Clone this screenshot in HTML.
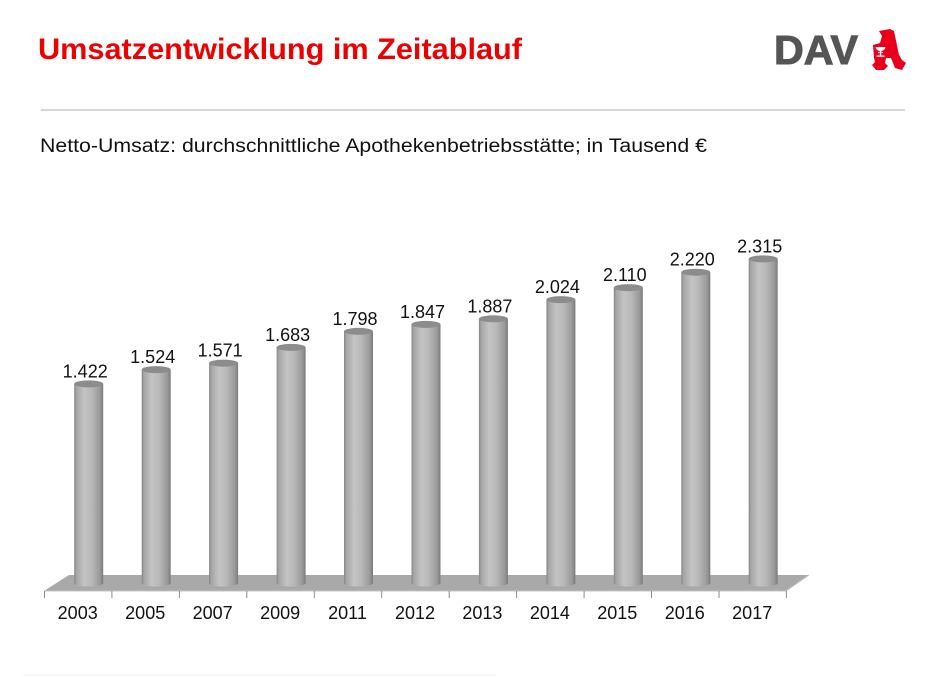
<!DOCTYPE html>
<html>
<head>
<meta charset="utf-8">
<style>
  html,body{margin:0;padding:0;background:#fff;}
  svg{display:block;}
  text{font-family:"Liberation Sans",Arial,sans-serif;}
</style>
</head>
<body>
<svg width="951" height="677" viewBox="0 0 951 677" xmlns="http://www.w3.org/2000/svg">
  <defs>
    <linearGradient id="cyl" x1="0" y1="0" x2="1" y2="0">
      <stop offset="0" stop-color="#858585"/>
      <stop offset="0.08" stop-color="#a6a6a6"/>
      <stop offset="0.35" stop-color="#c4c4c4"/>
      <stop offset="0.6" stop-color="#b8b8b8"/>
      <stop offset="0.88" stop-color="#9a9a9a"/>
      <stop offset="1" stop-color="#7a7a7a"/>
    </linearGradient>
  </defs>
  <rect width="951" height="677" fill="#fff"/>

  <!-- Title -->
  <text x="38" y="59" font-size="30" font-weight="bold" fill="#ee0000" textLength="484" lengthAdjust="spacingAndGlyphs">Umsatzentwicklung im Zeitablauf</text>

  <!-- DAV logo -->
  <text x="774" y="64" font-size="41" font-weight="bold" fill="#555555" stroke="#555555" stroke-width="1" textLength="84" lengthAdjust="spacingAndGlyphs">DAV</text>
  <polygon points="879,31 890,29 894,31 899,55 902,60 906,63 902,70 895,68 893,63 891,58 886,58 885,63 888,66 884,70 876,70 872,65 875,62 874,58 873,45 880,43 882,36" fill="#e8001c"/>
  <path d="M875.5,47 h10 a5,4 0 0 1 -10,0 z" fill="#fff"/>
  <rect x="879.8" y="50" width="1.5" height="6" fill="#fff"/>
  <rect x="876.5" y="55.5" width="8" height="1.3" fill="#fff"/>
  <path d="M878,53 q3,-2 5,0" stroke="#fff" stroke-width="0.8" fill="none"/>

  <!-- Separator line -->
  <line x1="41" y1="110" x2="905" y2="110" stroke="#c8c8c8" stroke-width="1.5"/>

  <!-- Subtitle -->
  <text x="40" y="152" font-size="19" fill="#111" textLength="667" lengthAdjust="spacingAndGlyphs">Netto-Umsatz: durchschnittliche Apothekenbetriebsstätte; in Tausend €</text>

  <!-- Floor -->
  <polygon points="69,575 809,575 786,591 44,591" fill="#a9a9a9"/>
  <line x1="44" y1="591" x2="786" y2="591" stroke="#c4c4c4" stroke-width="1"/>
  <line x1="786" y1="591" x2="809" y2="575" stroke="#c4c4c4" stroke-width="1"/>

  <!-- Ticks -->
  <g stroke="#8a8a8a" stroke-width="1">
    <line x1="44.5" y1="591" x2="44.5" y2="598"/>
    <line x1="111.9" y1="591" x2="111.9" y2="598"/>
    <line x1="179.4" y1="591" x2="179.4" y2="598"/>
    <line x1="246.8" y1="591" x2="246.8" y2="598"/>
    <line x1="314.3" y1="591" x2="314.3" y2="598"/>
    <line x1="381.7" y1="591" x2="381.7" y2="598"/>
    <line x1="449.2" y1="591" x2="449.2" y2="598"/>
    <line x1="516.6" y1="591" x2="516.6" y2="598"/>
    <line x1="584.1" y1="591" x2="584.1" y2="598"/>
    <line x1="651.5" y1="591" x2="651.5" y2="598"/>
    <line x1="719.0" y1="591" x2="719.0" y2="598"/>
    <line x1="786.4" y1="591" x2="786.4" y2="598"/>
  </g>

  <!-- Bars -->
  <g>
    <rect x="74.2" y="383.9" width="29" height="199.1" fill="url(#cyl)"/><ellipse cx="88.7" cy="583" rx="14.5" ry="3.5" fill="url(#cyl)"/><ellipse cx="88.7" cy="383.9" rx="14.5" ry="3.5" fill="#8c8c8c"/>
    <rect x="141.7" y="369.6" width="29" height="213.4" fill="url(#cyl)"/><ellipse cx="156.2" cy="583" rx="14.5" ry="3.5" fill="url(#cyl)"/><ellipse cx="156.2" cy="369.6" rx="14.5" ry="3.5" fill="#8c8c8c"/>
    <rect x="209.1" y="363.1" width="29" height="219.9" fill="url(#cyl)"/><ellipse cx="223.6" cy="583" rx="14.5" ry="3.5" fill="url(#cyl)"/><ellipse cx="223.6" cy="363.1" rx="14.5" ry="3.5" fill="#8c8c8c"/>
    <rect x="276.6" y="347.4" width="29" height="235.6" fill="url(#cyl)"/><ellipse cx="291.1" cy="583" rx="14.5" ry="3.5" fill="url(#cyl)"/><ellipse cx="291.1" cy="347.4" rx="14.5" ry="3.5" fill="#8c8c8c"/>
    <rect x="344.0" y="331.3" width="29" height="251.7" fill="url(#cyl)"/><ellipse cx="358.5" cy="583" rx="14.5" ry="3.5" fill="url(#cyl)"/><ellipse cx="358.5" cy="331.3" rx="14.5" ry="3.5" fill="#8c8c8c"/>
    <rect x="411.5" y="324.4" width="29" height="258.6" fill="url(#cyl)"/><ellipse cx="426.0" cy="583" rx="14.5" ry="3.5" fill="url(#cyl)"/><ellipse cx="426.0" cy="324.4" rx="14.5" ry="3.5" fill="#8c8c8c"/>
    <rect x="478.9" y="318.8" width="29" height="264.2" fill="url(#cyl)"/><ellipse cx="493.4" cy="583" rx="14.5" ry="3.5" fill="url(#cyl)"/><ellipse cx="493.4" cy="318.8" rx="14.5" ry="3.5" fill="#8c8c8c"/>
    <rect x="546.4" y="299.6" width="29" height="283.4" fill="url(#cyl)"/><ellipse cx="560.9" cy="583" rx="14.5" ry="3.5" fill="url(#cyl)"/><ellipse cx="560.9" cy="299.6" rx="14.5" ry="3.5" fill="#8c8c8c"/>
    <rect x="613.8" y="287.6" width="29" height="295.4" fill="url(#cyl)"/><ellipse cx="628.3" cy="583" rx="14.5" ry="3.5" fill="url(#cyl)"/><ellipse cx="628.3" cy="287.6" rx="14.5" ry="3.5" fill="#8c8c8c"/>
    <rect x="681.3" y="272.2" width="29" height="310.8" fill="url(#cyl)"/><ellipse cx="695.8" cy="583" rx="14.5" ry="3.5" fill="url(#cyl)"/><ellipse cx="695.8" cy="272.2" rx="14.5" ry="3.5" fill="#8c8c8c"/>
    <rect x="748.7" y="258.9" width="29" height="324.1" fill="url(#cyl)"/><ellipse cx="763.2" cy="583" rx="14.5" ry="3.5" fill="url(#cyl)"/><ellipse cx="763.2" cy="258.9" rx="14.5" ry="3.5" fill="#8c8c8c"/>
  </g>

  <!-- Value labels -->
  <g font-size="18" fill="#111" text-anchor="middle">
    <text x="85.2" y="377.4">1.422</text>
    <text x="152.7" y="363.1">1.524</text>
    <text x="220.1" y="356.6">1.571</text>
    <text x="287.6" y="340.9">1.683</text>
    <text x="355.0" y="324.8">1.798</text>
    <text x="422.5" y="317.9">1.847</text>
    <text x="489.9" y="312.3">1.887</text>
    <text x="557.4" y="293.1">2.024</text>
    <text x="624.8" y="281.1">2.110</text>
    <text x="692.3" y="265.7">2.220</text>
    <text x="759.7" y="252.4">2.315</text>
  </g>

  <!-- Year labels -->
  <g font-size="18" fill="#111" text-anchor="middle">
    <text x="77.7" y="619">2003</text>
    <text x="145.2" y="619">2005</text>
    <text x="212.6" y="619">2007</text>
    <text x="280.1" y="619">2009</text>
    <text x="347.5" y="619">2011</text>
    <text x="415.0" y="619">2012</text>
    <text x="482.4" y="619">2013</text>
    <text x="549.9" y="619">2014</text>
    <text x="617.3" y="619">2015</text>
    <text x="684.8" y="619">2016</text>
    <text x="752.2" y="619">2017</text>
  </g>

  <!-- faint bottom line -->
  <line x1="23" y1="675" x2="497" y2="675" stroke="#f2f2f2" stroke-width="1"/>
</svg>
</body>
</html>
